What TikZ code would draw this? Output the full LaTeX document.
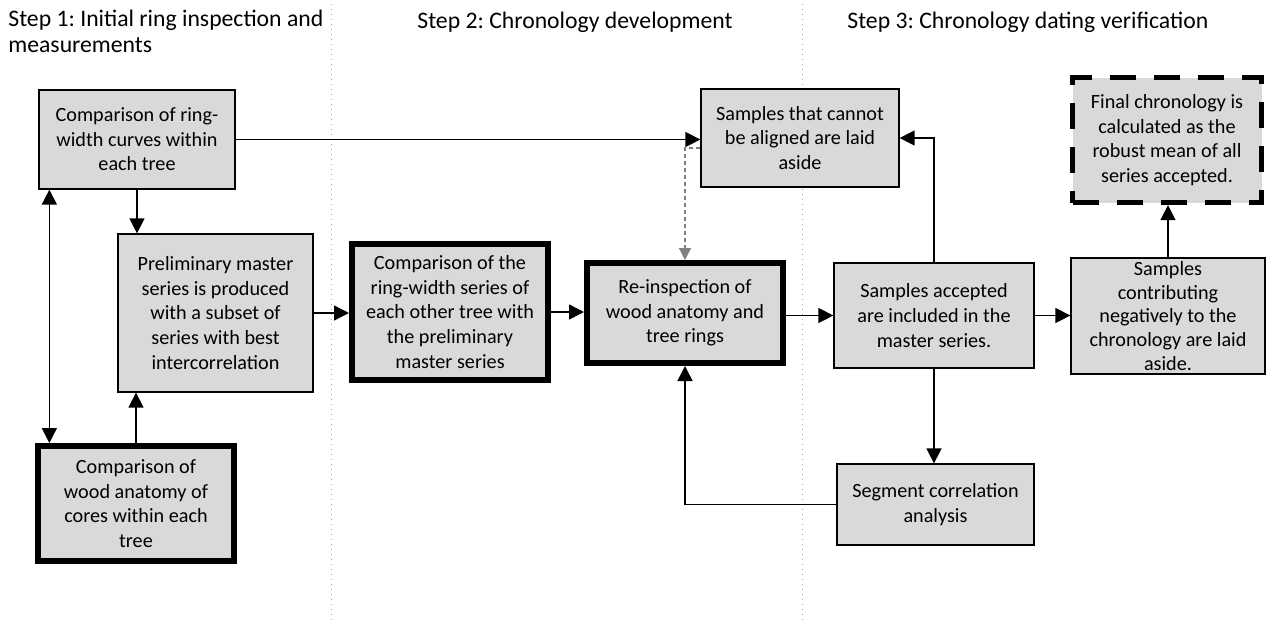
\documentclass[tikz,border=0pt]{standalone}
\usepackage{fontspec}
\setmainfont{Carlito}
\usepackage{xcolor}
\usetikzlibrary{arrows.meta,positioning,calc}
\frenchspacing
\definecolor{cFill}{HTML}{D9D9D9}
\definecolor{cGuide}{HTML}{A6A6A6}
\definecolor{cSoftArrow}{HTML}{808080}
\tikzset{
  box/.style   = {rectangle, draw=black, fill=cFill, line width=0.65pt,
                  align=center, inner sep=1.5pt, font=\fontsize{10.1pt}{12.3pt}\selectfont},
  boxb/.style  = {box, line width=3pt},
  boxd/.style  = {box, line width=2.6pt, dash pattern=on 13pt off 9pt},
  fl/.style    = {-{Triangle[length=7.5pt,width=7.5pt]}, draw=black, line width=0.75pt},
  flboth/.style= {{Triangle[length=7.5pt,width=7.5pt]}-{Triangle[length=7.5pt,width=7.5pt]},
                  draw=black, line width=0.75pt},
  fldash/.style= {-{Triangle[length=6pt,width=6pt]}, draw=cSoftArrow,
                  line width=0.6pt, dash pattern=on 2pt off 1.5pt},
  guide/.style = {draw=cGuide, line width=0.5pt, dotted},
  head/.style  = {font=\fontsize{11.85pt}{13pt}\selectfont, inner sep=0pt, align=left},
}

\begin{document}
\begin{tikzpicture}[x=0.5pt, y=-0.5pt]
  \useasboundingbox (0,0) rectangle (1266,623);

  % column dividers
  \foreach \x in {331,802}
    \draw[guide] (\x,4) -- (\x,623);

  % headings
  \node[head, anchor=north west] (h1) at (8,10) {Step 1: Initial ring inspection and\\measurements};
  \node[head, anchor=base west] (h2) at (417,28) {Step 2: Chronology development};
  \node[head, anchor=base west] (h3) at (847,28) {Step 3: Chronology dating verification};

  % step 1
  \node[box, minimum width=98pt, minimum height=49.5pt] (curves) at (137,139.5)
    {Comparison of ring-\\width curves within\\each tree};
  \node[box, minimum width=97.5pt, minimum height=79pt] (prelim) at (215.5,313)
    {Preliminary master\\series is produced\\with a subset of\\series with best\\intercorrelation};
  \node[boxb, minimum width=98pt, minimum height=57.5pt] (anatomy) at (136,503.5)
    {Comparison of\\wood anatomy of\\cores within each\\tree};

  % step 2
  \node[boxb, minimum width=98pt, minimum height=68pt] (compare) at (450,312)
    {Comparison of the\\ring-width series of\\each other tree with\\the preliminary\\master series};
  \node[boxb, minimum width=98pt, minimum height=50pt] (reinsp) at (685,313)
    {Re-inspection of\\wood anatomy and\\tree rings};
  \node[box, minimum width=99pt, minimum height=49pt] (aside) at (800,138)
    {Samples that cannot\\be aligned are laid\\aside};

  % step 3
  \node[box, minimum width=100pt, minimum height=52.5pt] (accept) at (934,315.5)
    {Samples accepted\\are included in the\\master series.};
  \node[box, minimum width=98.5pt, minimum height=40.5pt] (segment) at (935.5,504.5)
    {Segment correlation\\analysis};
  \node[box, minimum width=97pt, minimum height=58pt, inner ysep=0.5pt,
        font=\fontsize{10.1pt}{11.9pt}\selectfont] (negative) at (1168,316)
    {Samples\\contributing\\negatively to the\\chronology are laid\\aside.};
  \node[boxd, minimum width=94.5pt, minimum height=62.5pt] (final) at (1167,140)
    {Final chronology is\\calculated as the\\robust mean of all\\series accepted.};

  % connectors
  \coordinate (dblTop) at ([xshift=5.5pt]curves.south west);
  \draw[flboth] (dblTop) -- (dblTop |- anatomy.north);
  \draw[fl] (curves.south) -- (curves.south |- prelim.north);
  \draw[fl] (anatomy.north) -- (anatomy.north |- prelim.south);
  \draw[fl] (curves.east) -- (curves.east -| aside.west);
  \draw[fldash] ([yshift=-5pt]aside.west) -| (reinsp.north);
  \draw[fl] (prelim.east) -- (prelim.east -| compare.west);
  \draw[fl] (compare.east) -- (compare.east -| reinsp.west);
  \draw[fl] (reinsp.east |- accept.west) -- (accept.west);
  \draw[fl] (accept.north) |- (aside.east);
  \draw[fl] (accept.south) -- (accept.south |- segment.north);
  \draw[fl] (segment.west) -| (reinsp.south);
  \draw[fl] (accept.east) -- (accept.east -| negative.west);
  \draw[fl] (negative.north) -- (negative.north |- final.south);
\end{tikzpicture}
\end{document}
